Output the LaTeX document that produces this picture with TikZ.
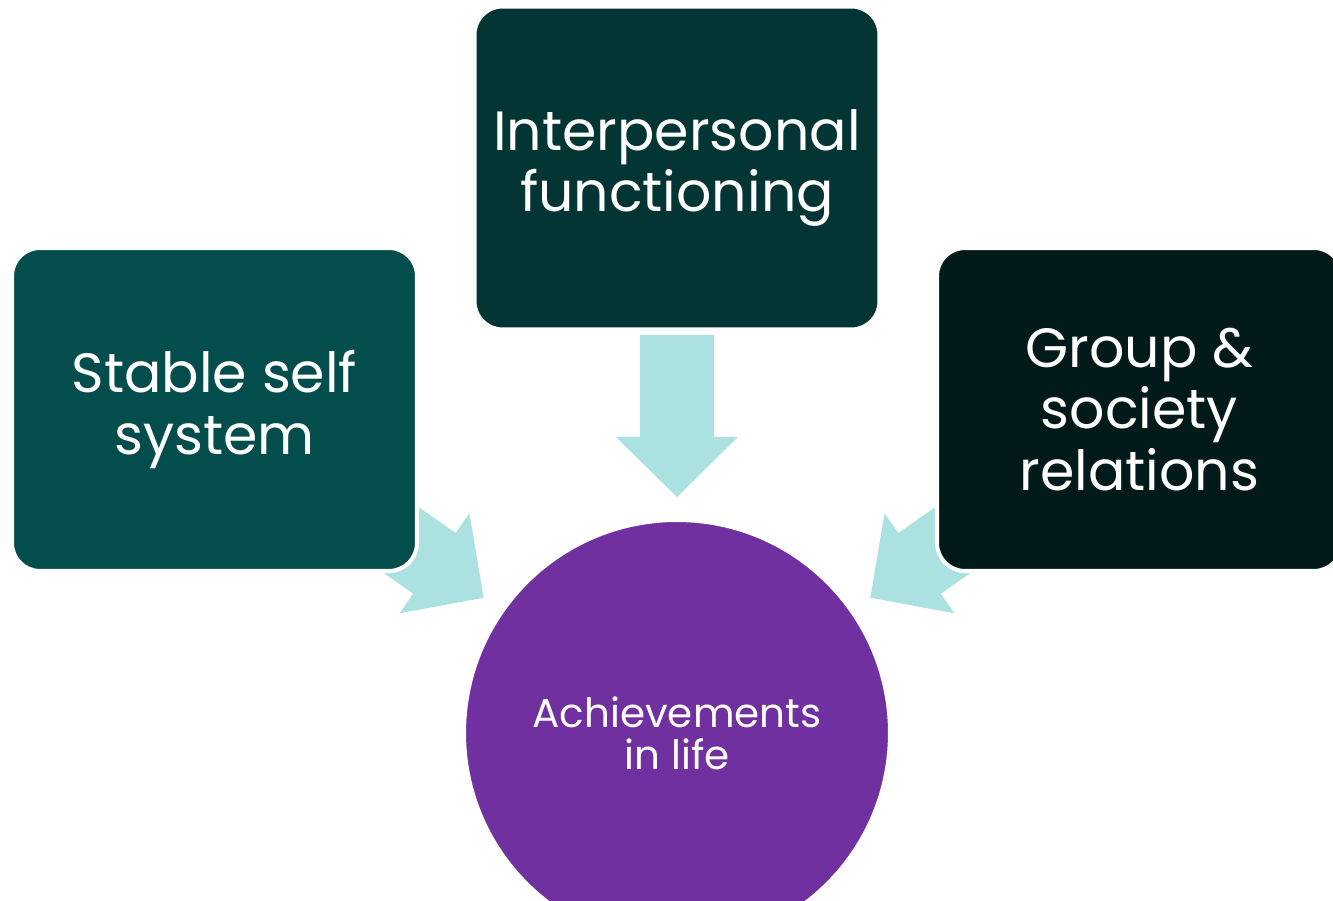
\documentclass[tikz,border=0pt]{standalone}
\usepackage{fontspec}
\setmainfont{Poppins}
\usetikzlibrary{calc,backgrounds}

\definecolor{selfteal}{HTML}{034D4C}
\definecolor{interteal}{HTML}{033535}
\definecolor{groupteal}{HTML}{021A1A}
\definecolor{lifepurple}{HTML}{7030A0}
\definecolor{arrowcyan}{HTML}{ABE1E1}

\begin{document}
\begin{tikzpicture}[
    area/.style={rectangle,rounded corners=0.56cm,draw=white,line width=2.3pt,
      minimum width=8.1cm,minimum height=6.46cm,inner sep=2pt,text=white,align=center,
      font=\fontsize{31.5}{35}\selectfont},
    goal/.style={circle,draw=white,line width=2.3pt,fill=lifepurple,
      minimum size=8.52cm,text=white,align=center,font=\fontsize{23}{24}\selectfont},
    blockarrow/.style={fill=arrowcyan}]
  \useasboundingbox (0,0) rectangle (26.66,18.02);
  \clip (0,0) rectangle (26.66,18.02);

  \node[area,fill=selfteal] (self) at (4.29,9.83) {Stable self\\system};
  \node[area,fill=interteal] (inter) at (13.54,14.66) {Interpersonal\\functioning};
  \node[area,fill=groupteal] (group) at (22.79,9.83) {Group \&\\society\\relations};
  \node[goal] (life) at (13.54,3.36) {Achievements\\in life};

  % block arrows from each box towards the circle, kept under the boxes
  \begin{scope}[on background layer]
    \foreach \src in {self,inter,group} {
      \coordinate (tip) at ($(life)!4.72cm!(\src)$);
      \coordinate (neck) at ($(tip)!1.2cm!(\src)$);
      \coordinate (tail) at ($(tip)!3.24cm!(\src)$);
      \fill[blockarrow] (tip) -- ($(neck)!1.22cm!90:(tip)$) -- ($(neck)!0.74cm!90:(tip)$)
        -- ($(tail)!0.74cm!90:(tip)$) -- ($(tail)!0.74cm!-90:(tip)$)
        -- ($(neck)!0.74cm!-90:(tip)$) -- ($(neck)!1.22cm!-90:(tip)$) -- cycle;
    }
  \end{scope}
\end{tikzpicture}
\end{document}
